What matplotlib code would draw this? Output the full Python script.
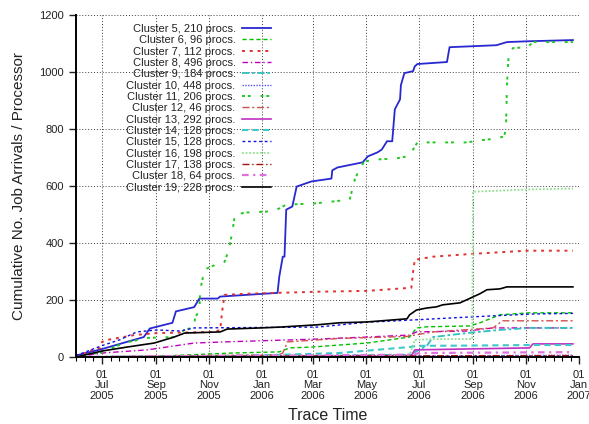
import numpy as np
import pandas as pd
import matplotlib
matplotlib.use("Agg")
import matplotlib.pyplot as plt
import matplotlib.dates as mdates
import matplotlib.ticker as mticker

plt.rcParams['font.family'] = ['Liberation Sans', 'DejaVu Sans']

# cumulative job arrivals per processor
c5_dates = ['2005-06-01', '2005-06-10', '2005-07-01', '2005-08-18', '2005-08-25', '2005-09-20', '2005-09-24',
            '2005-10-15', '2005-10-21', '2005-11-11', '2005-11-14', '2006-01-19', '2006-01-21', '2006-01-25',
            '2006-01-27', '2006-01-29', '2006-02-05', '2006-02-10', '2006-02-27', '2006-03-22', '2006-03-23',
            '2006-03-29', '2006-04-27', '2006-05-03', '2006-05-14', '2006-05-19', '2006-05-25', '2006-05-31',
            '2006-06-03', '2006-06-09', '2006-06-10', '2006-06-14', '2006-06-24', '2006-06-26', '2006-06-29',
            '2006-08-02', '2006-08-05', '2006-09-28', '2006-10-10', '2006-11-05', '2006-12-25']
c5_vals = [5, 12, 28, 70, 100, 120, 160, 175, 205, 205, 212, 225, 282, 352, 352, 517, 528, 598, 616, 626,
           655, 665, 683, 704, 718, 728, 757, 757, 869, 904, 954, 996, 1003, 1020, 1028, 1035, 1087, 1094,
           1105, 1108, 1112]

c6_dates = ['2005-06-01', '2005-09-05', '2005-11-28', '2006-01-21', '2006-02-02', '2006-02-28', '2006-05-02',
            '2006-06-20', '2006-06-28', '2006-07-10', '2006-08-28', '2006-09-09', '2006-10-02', '2006-11-05',
            '2006-12-25']
c6_vals = [0, 3, 14, 18, 32, 35, 49, 70, 102, 106, 109, 120, 148, 155, 155]

c7_dates = ['2005-06-01', '2005-06-20', '2005-06-29', '2005-07-01', '2005-07-07', '2005-08-07', '2005-09-02',
            '2005-11-07', '2005-11-14', '2005-11-16', '2005-11-19', '2005-12-15', '2006-01-19', '2006-03-06',
            '2006-05-02', '2006-06-22', '2006-06-24', '2006-06-26', '2006-07-17', '2006-09-01', '2006-11-02',
            '2006-12-25']
c7_vals = [0, 25, 32, 53, 60, 77, 84, 88, 95, 155, 218, 222, 225, 229, 232, 243, 299, 341, 352, 362, 373, 373]

c8_dates = ['2005-06-01', '2005-07-01', '2005-08-22', '2005-10-15', '2005-11-19', '2006-03-06', '2006-05-02',
            '2006-06-20', '2006-06-28', '2006-08-25', '2006-09-24', '2006-12-25']
c8_vals = [0, 14, 25, 49, 53, 63, 70, 77, 88, 91, 102, 102]

c9_dates = ['2005-06-01', '2006-01-21', '2006-06-20', '2006-06-28', '2006-07-10', '2006-07-17', '2006-08-25',
            '2006-10-02', '2006-11-05', '2006-12-25']
c9_vals = [0, 3, 8, 20, 40, 70, 84, 95, 102, 102]

c10_dates = ['2005-06-01', '2006-01-01', '2006-07-01', '2006-12-25']
c10_vals = [0, 2, 4, 6]

c11_dates = ['2005-06-01', '2005-07-01', '2005-07-26', '2005-08-22', '2005-09-22', '2005-10-04', '2005-10-15',
             '2005-10-16', '2005-10-21', '2005-10-22', '2005-10-27', '2005-11-03', '2005-11-19', '2005-11-24',
             '2005-11-28', '2005-12-01', '2005-12-14', '2006-01-06', '2006-01-21', '2006-01-29', '2006-02-28',
             '2006-04-12', '2006-04-18', '2006-04-23', '2006-04-29', '2006-05-13', '2006-06-05', '2006-06-17',
             '2006-06-24', '2006-06-29', '2006-08-25', '2006-09-09', '2006-09-28', '2006-10-07', '2006-10-09',
             '2006-10-10', '2006-10-12', '2006-10-17', '2006-11-03', '2006-11-09', '2006-12-25']
c11_vals = [0, 17, 49, 67, 70, 95, 105, 137, 165, 236, 306, 317, 334, 376, 440, 500, 507, 510, 521, 535,
            538, 552, 623, 658, 686, 693, 697, 704, 728, 753, 753, 760, 767, 774, 809, 950, 1056, 1084,
            1087, 1105, 1105]

c12_dates = ['2005-06-01', '2006-01-21', '2006-01-25', '2006-01-29', '2006-01-30', '2006-03-31', '2006-06-17',
             '2006-07-17', '2006-09-24', '2006-10-05', '2006-12-25']
c12_vals = [0, 8, 14, 42, 53, 65, 72, 88, 102, 127, 127]

c13_dates = ['2005-06-01', '2006-06-22', '2006-06-26', '2006-11-05', '2006-11-09', '2006-12-25']
c13_vals = [0, 5, 25, 32, 46, 46]

c14_dates = ['2005-06-01', '2005-12-01', '2006-03-31', '2006-06-20', '2006-06-29', '2006-08-25', '2006-11-05',
             '2006-12-25']
c14_vals = [0, 3, 14, 35, 39, 40, 42, 42]

c15_dates = ['2005-06-01', '2005-07-01', '2005-07-21', '2005-08-10', '2005-09-02', '2005-09-29', '2005-10-15',
             '2006-03-06', '2006-05-02', '2006-06-24', '2006-09-01', '2006-11-09', '2006-12-25']
c15_vals = [5, 40, 60, 88, 95, 91, 102, 105, 122, 130, 141, 151, 153]

c16_dates = ['2005-06-01', '2006-06-20', '2006-06-26', '2006-07-17', '2006-08-31', '2006-09-01', '2006-11-05',
             '2006-12-25']
c16_vals = [0, 5, 60, 63, 63, 580, 588, 591]

c17_dates = ['2005-06-01', '2005-11-01', '2006-06-01', '2006-12-25']
c17_vals = [0, 3, 4, 5]

c18_dates = ['2005-06-01', '2005-09-01', '2006-01-01', '2006-06-24', '2006-07-01', '2006-12-25']
c18_vals = [0, 3, 5, 8, 14, 17]

c19_dates = ['2005-06-01', '2005-07-01', '2005-07-30', '2005-08-30', '2005-09-22', '2005-10-04', '2005-11-14',
             '2005-11-22', '2005-12-30', '2006-01-22', '2006-03-06', '2006-03-31', '2006-05-02', '2006-06-17',
             '2006-06-20', '2006-06-28', '2006-07-10', '2006-07-21', '2006-07-28', '2006-08-17', '2006-08-25',
             '2006-09-01', '2006-09-09', '2006-09-17', '2006-10-02', '2006-10-10', '2006-12-25']
c19_vals = [0, 21, 35, 49, 70, 84, 88, 98, 102, 105, 113, 120, 123, 134, 148, 165, 172, 176, 183, 190,
            201, 211, 222, 236, 239, 246, 246]

cluster_ids = [5, 6, 7, 8, 9, 10, 11, 12, 13, 14, 15, 16, 17, 18, 19]
cluster_procs = [210, 96, 112, 496, 184, 448, 206, 46, 292, 128, 128, 198, 138, 64, 228]
series = [(c5_dates, c5_vals), (c6_dates, c6_vals), (c7_dates, c7_vals), (c8_dates, c8_vals),
          (c9_dates, c9_vals), (c10_dates, c10_vals), (c11_dates, c11_vals), (c12_dates, c12_vals),
          (c13_dates, c13_vals), (c14_dates, c14_vals), (c15_dates, c15_vals), (c16_dates, c16_vals),
          (c17_dates, c17_vals), (c18_dates, c18_vals), (c19_dates, c19_vals)]

# gnuplot-ish colours / dash patterns
styles = [
    ('#2828d0', '-', 1.3),
    ('#00c000', (0, (3, 2)), 1.0),
    ('#e03030', (0, (1.5, 2.5)), 1.4),
    ('#c000c0', (0, (4, 2, 1, 2)), 1.0),
    ('#30c0c0', (0, (4, 1.5, 1.5, 1.5)), 1.3),
    ('#5050f0', (0, (1, 1)), 1.0),
    ('#20c820', (0, (1.5, 1.5, 1.5, 5)), 1.4),
    ('#d05050', (0, (5, 2, 1.5, 2)), 1.0),
    ('#c030c0', '-', 1.2),
    ('#40c8c8', (0, (3, 2)), 1.5),
    ('#1010e0', (0, (2, 2)), 1.0),
    ('#90e090', (0, (1, 1)), 1.3),
    ('#a01010', (0, (5, 2, 1, 2)), 1.0),
    ('#e070e0', (0, (3, 2, 1, 2)), 1.6),
    ('black', '-', 1.2),
]

fig = plt.figure(figsize=(5.89, 4.24), dpi=100)
ax = fig.add_axes([76 / 589, 1 - 357 / 424, 503 / 589, 342 / 424])

for cid, procs, (d, v), (col, ls, lw) in zip(cluster_ids, cluster_procs, series, styles):
    ax.plot(pd.to_datetime(d), v, color=col, ls=ls, lw=lw,
            label="Cluster %d, %d procs." % (cid, procs))

ax.set_xlim(pd.Timestamp('2005-06-01'), pd.Timestamp('2007-01-01'))
ax.set_ylim(0, 1200)
ax.yaxis.set_major_locator(mticker.MultipleLocator(200))
ax.xaxis.set_major_locator(mdates.MonthLocator(bymonth=[1, 3, 5, 7, 9, 11]))
ax.xaxis.set_major_formatter(mdates.DateFormatter('%d\n%b\n%Y'))
ax.xaxis.set_minor_locator(mticker.MultipleLocator(10, offset=5))

ax.grid(True, which='major', ls=(0, (1, 2)), color='#404040', lw=0.7)
for s in ['top', 'right']:
    ax.spines[s].set_visible(False)
for s in ['left', 'bottom']:
    ax.spines[s].set_linewidth(1.4)
ax.tick_params(which='major', direction='out', length=5, width=1, labelsize=8, colors='#222222')
ax.tick_params(axis='x', which='major', pad=4)
ax.tick_params(which='minor', direction='out', length=3, width=0.8)
for lab in ax.get_xticklabels():
    lab.set_linespacing(1.1)

ax.set_xlabel("Trace Time", fontsize=11.5, color='#222222', labelpad=5)
ax.set_ylabel("Cumulative No. Job Arrivals / Processor", fontsize=11, color='#222222', labelpad=10)

leg = ax.legend(loc='upper right', bbox_to_anchor=(0.388, 0.974), frameon=False, fontsize=8,
                markerfirst=False, labelspacing=0.12, handlelength=2.6, handletextpad=0.6,
                borderpad=0, borderaxespad=0)
# right-align the labels like gnuplot's key
leg._legend_box._children[-1]._children[0].align = 'right'
for t in leg.get_texts():
    t.set_color('#222222')

fig.savefig("out.png", dpi=100)
